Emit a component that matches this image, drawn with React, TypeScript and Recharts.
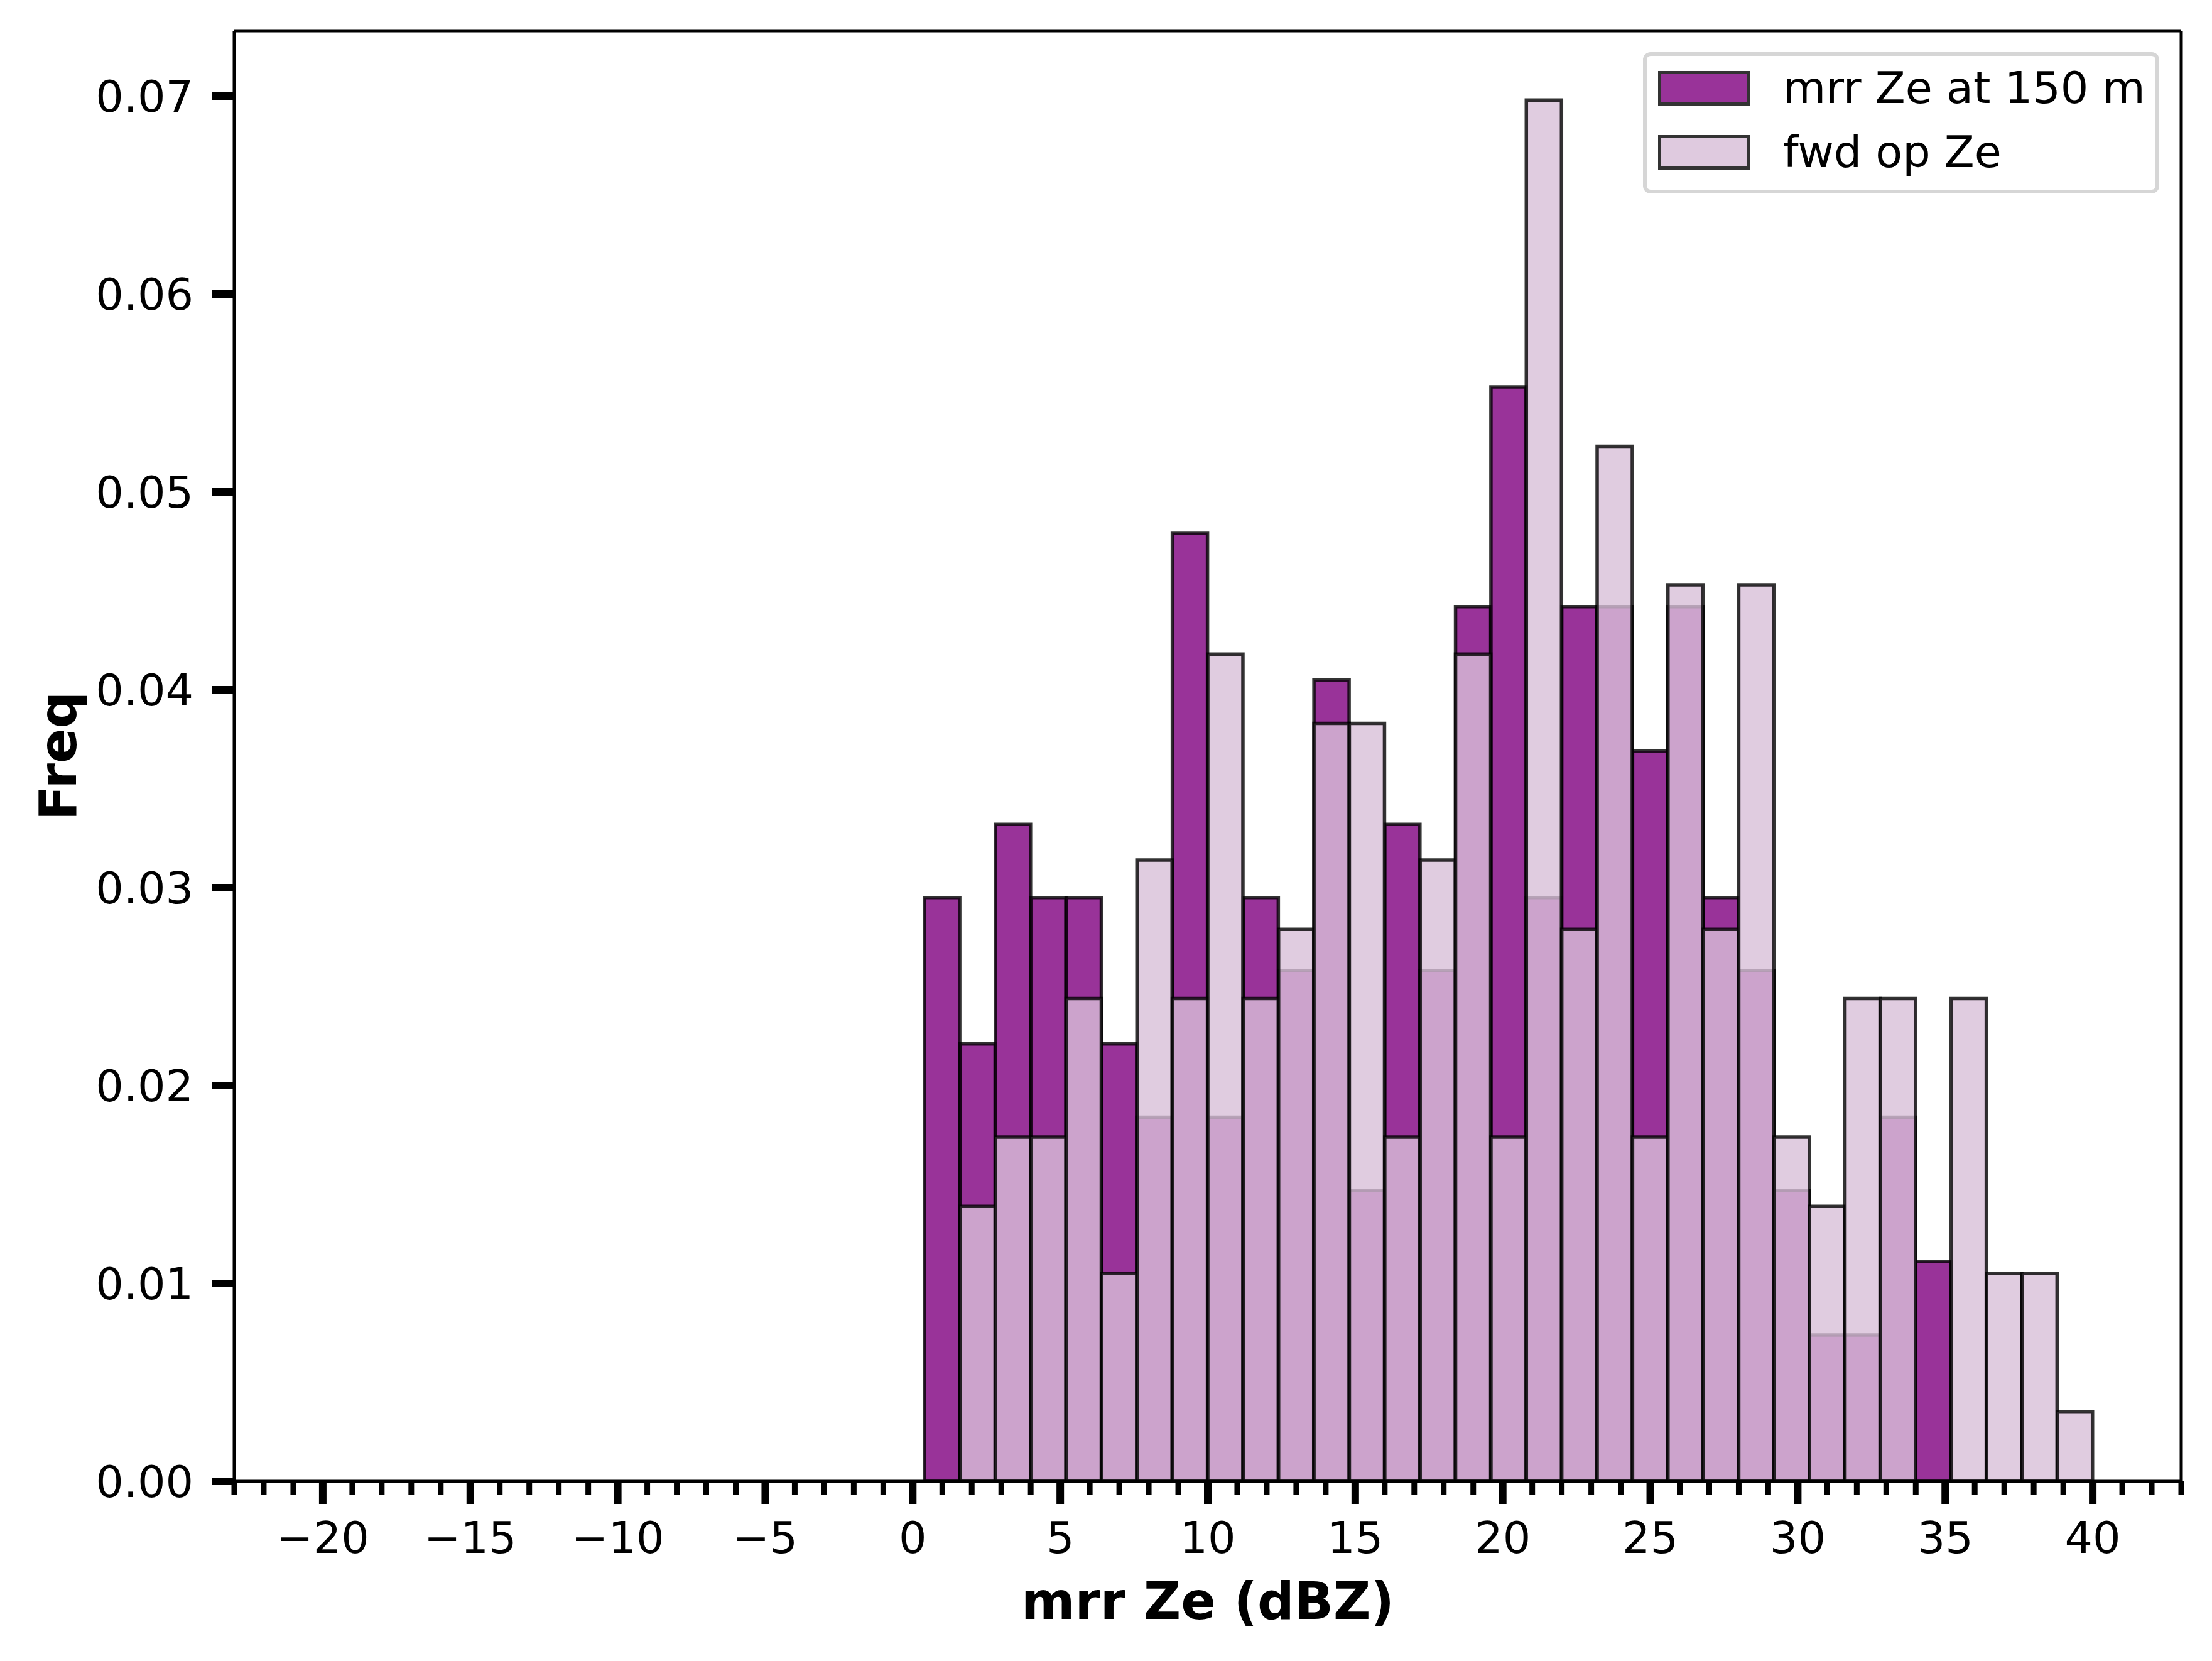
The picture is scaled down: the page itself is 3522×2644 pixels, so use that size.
import { BarChart, Bar, XAxis, YAxis, Legend } from "recharts";

// histogram bins: 50 bins of 1.2 dBZ from -20 to 40 (left edges)
const binStarts = [
  -20, -18.8, -17.6, -16.4, -15.2, -14, -12.8, -11.6, -10.4, -9.2,
  -8, -6.8, -5.6, -4.4, -3.2, -2, -0.8, 0.4, 1.6, 2.8,
  4, 5.2, 6.4, 7.6, 8.8, 10, 11.2, 12.4, 13.6, 14.8,
  16, 17.2, 18.4, 19.6, 20.8, 22, 23.2, 24.4, 25.6, 26.8,
  28, 29.2, 30.4, 31.6, 32.8, 34, 35.2, 36.4, 37.6, 38.8,
];

const mrrFreq = [
  0, 0, 0, 0, 0, 0, 0, 0, 0, 0,
  0, 0, 0, 0, 0, 0, 0, 0.0295, 0.0221, 0.0332,
  0.0295, 0.0295, 0.0221, 0.0184, 0.0479, 0.0184, 0.0295, 0.0258, 0.0405, 0.0147,
  0.0332, 0.0258, 0.0442, 0.0553, 0.0295, 0.0442, 0.0442, 0.0369, 0.0442, 0.0295,
  0.0258, 0.0147, 0.0074, 0.0074, 0.0184, 0.0111, 0, 0, 0, 0,
];

const fwdFreq = [
  0, 0, 0, 0, 0, 0, 0, 0, 0, 0,
  0, 0, 0, 0, 0, 0, 0, 0, 0.0139, 0.0174,
  0.0174, 0.0244, 0.0105, 0.0314, 0.0244, 0.0418, 0.0244, 0.0279, 0.0383, 0.0383,
  0.0174, 0.0314, 0.0418, 0.0174, 0.0698, 0.0279, 0.0523, 0.0174, 0.0453, 0.0279,
  0.0453, 0.0174, 0.0139, 0.0244, 0.0244, 0, 0.0244, 0.0105, 0.0105, 0.0035,
];

const xMajorTicks = [-20, -15, -10, -5, 0, 5, 10, 15, 20, 25, 30, 35, 40];
const xAllTicks = Array.from({ length: 67 }, (_, i) => i - 23);
const yTicks = [0, 0.01, 0.02, 0.03, 0.04, 0.05, 0.06, 0.07];

const legendItems = [
  { name: "mrr Ze at 150 m", color: "#993399" },
  { name: "fwd op Ze", color: "#dfcadf" },
];

const data = binStarts.map((b, i) => ({ bin: b, mrr: mrrFreq[i], fwd: fwdFreq[i] }));

const W = 3522;
const H = 2644;
const LEFT = 373;
const TOP = 49;
const RIGHT = 49;
const X_AXIS_H = 286;
const PLOT_W = W - LEFT - RIGHT;
const X_DOMAIN: [number, number] = [-23, 43];
const Y_DOMAIN: [number, number] = [0, 0.0733];
const BIN_PAD = (PLOT_W * 3) / 66;
const FONT = "DejaVu Sans";
const SPINE = { stroke: "#000", strokeWidth: 5 };

const fmtMinus = (v: number) => (v < 0 ? `\u2212${-v}` : `${v}`);

function XTick(props: any) {
  const { x, y, payload } = props;
  const v = payload.value;
  const major = xMajorTicks.includes(v);
  return (
    <g>
      <line x1={x} x2={x} y1={y} y2={y + (major ? 36 : 22)} stroke="#000" strokeWidth={major ? 12 : 9} />
      {major && (
        <text x={x} y={y + 114} textAnchor="middle" fontSize={70} fontFamily={FONT} fill="#000">
          {fmtMinus(v)}
        </text>
      )}
    </g>
  );
}

function YTick(props: any) {
  const { x, y, payload } = props;
  return (
    <text x={x} y={y + 25} textAnchor="end" fontSize={70} fontFamily={FONT} fill="#000">
      {payload.value.toFixed(2)}
    </text>
  );
}

function LegendBox() {
  return (
    <div
      style={{
        boxSizing: "border-box",
        width: 822,
        height: 225,
        border: "6px solid #d6d6d6",
        borderRadius: 12,
        background: "#fff",
        position: "relative",
        fontFamily: FONT,
        fontSize: 70,
        color: "#000",
      }}
    >
      {legendItems.map((it, i) => (
        <div
          key={it.name}
          style={{
            position: "absolute",
            left: 18,
            top: 24 + i * 102,
            height: 55,
            display: "flex",
            alignItems: "center",
            whiteSpace: "nowrap",
          }}
        >
          <div
            style={{
              boxSizing: "border-box",
              width: 146,
              height: 55,
              background: it.color,
              border: "5px solid #333",
            }}
          />
          <span style={{ marginLeft: 53, lineHeight: "55px" }}>{it.name}</span>
        </div>
      ))}
    </div>
  );
}

export default function App() {
  return (
    <div style={{ position: "absolute", left: 0, top: 0, width: W, height: H, background: "#fff", fontFamily: FONT }}>
      <BarChart
        width={W}
        height={H}
        data={data}
        margin={{ top: TOP - 1, right: RIGHT - 1, bottom: 0, left: 0 }}
        barCategoryGap={0}
        barGap={0}
      >
        {/* hidden band axes, one per series so the bars overlap */}
        <XAxis xAxisId="a" dataKey="bin" hide height={0} padding={{ left: BIN_PAD, right: BIN_PAD }} />
        <XAxis xAxisId="b" dataKey="bin" hide height={0} padding={{ left: BIN_PAD, right: BIN_PAD }} />

        <XAxis
          xAxisId="num"
          dataKey="bin"
          type="number"
          domain={X_DOMAIN}
          allowDataOverflow
          ticks={xAllTicks}
          interval={0}
          tickSize={0}
          tickMargin={0}
          tickLine={false}
          tick={<XTick />}
          height={X_AXIS_H}
          axisLine={SPINE}
          label={{
            content: (p: any) => (
              <text
                x={p.viewBox.x + p.viewBox.width / 2}
                y={p.viewBox.y + 219}
                textAnchor="middle"
                fontSize={82}
                fontWeight="bold"
                fontFamily={FONT}
                fill="#000"
              >
                mrr Ze (dBZ)
              </text>
            ),
          }}
        />
        {/* top spine */}
        <XAxis
          xAxisId="top"
          dataKey="bin"
          orientation="top"
          type="number"
          domain={X_DOMAIN}
          allowDataOverflow
          height={1}
          ticks={[0]}
          tick={false}
          tickLine={false}
          axisLine={SPINE}
        />

        <YAxis
          type="number"
          domain={Y_DOMAIN}
          allowDataOverflow
          ticks={yTicks}
          interval={0}
          width={LEFT}
          tickSize={36}
          tickMargin={29}
          tickLine={{ stroke: "#000", strokeWidth: 12 }}
          tick={<YTick />}
          axisLine={SPINE}
          label={{
            content: (p: any) => {
              const cx = p.viewBox.x + 121;
              const cy = p.viewBox.y + p.viewBox.height / 2;
              return (
                <text
                  x={cx}
                  y={cy}
                  transform={`rotate(-90, ${cx}, ${cy})`}
                  textAnchor="middle"
                  fontSize={82}
                  fontWeight="bold"
                  fontFamily={FONT}
                  fill="#000"
                >
                  Freq
                </text>
              );
            },
          }}
        />
        {/* right spine */}
        <YAxis
          yAxisId="right"
          orientation="right"
          type="number"
          domain={Y_DOMAIN}
          allowDataOverflow
          width={1}
          ticks={[0]}
          tick={false}
          tickLine={false}
          axisLine={SPINE}
        />

        <Legend
          layout="vertical"
          align="center"
          verticalAlign="middle"
          content={() => <LegendBox />}
          wrapperStyle={{ left: 2616, top: 83, width: 822, height: 225 }}
        />

        <Bar
          xAxisId="a"
          dataKey="mrr"
          name="mrr Ze at 150 m"
          fill="purple"
          fillOpacity={0.8}
          stroke="#000"
          strokeOpacity={0.8}
          strokeWidth={5.5}
          isAnimationActive={false}
        />
        <Bar
          xAxisId="b"
          dataKey="fwd"
          name="fwd op Ze"
          fill="thistle"
          fillOpacity={0.8}
          stroke="#000"
          strokeOpacity={0.8}
          strokeWidth={5.5}
          isAnimationActive={false}
        />
      </BarChart>
    </div>
  );
}
